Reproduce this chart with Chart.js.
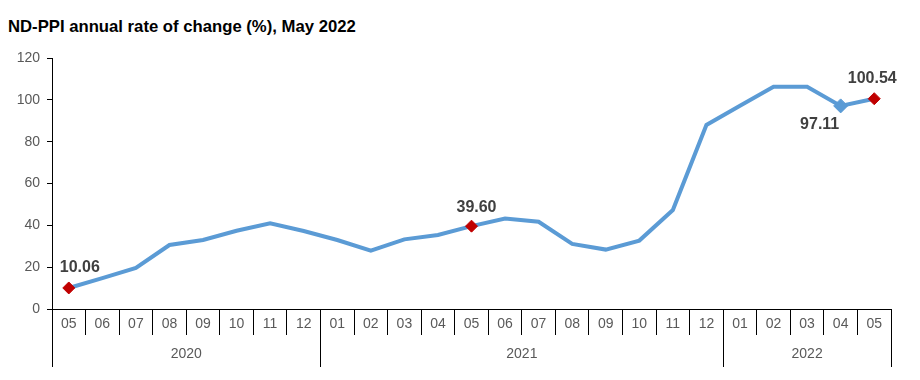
<!DOCTYPE html>
<html>
<head>
<meta charset="utf-8">
<script src="https://cdn.jsdelivr.net/npm/chart.js@4"></script>
<style>
  html, body { margin: 0; padding: 0; background: #fff; }
  .wrap { position: relative; width: 920px; height: 380px; }
  .title { position: absolute; left: 8px; top: 17px; font: bold 16.7px "Liberation Sans", Arial, sans-serif; color: #000; }
  canvas { position: absolute; left: 0; top: 0; }
</style>
</head>
<body>
<div class="wrap">
  <div class="title">ND-PPI annual rate of change (%), May 2022</div>
  <canvas id="ppiChart" width="920" height="380"></canvas>
</div>
<script>
const MONTHS = ['05','06','07','08','09','10','11','12',
                '01','02','03','04','05','06','07','08','09','10','11','12',
                '01','02','03','04','05'];
const YEARS = ['2020', '2021', '2022'];
const YEAR_MONTHS = [8, 12, 5];
const RATE = [10.06, 14.8, 19.6, 30.6, 33.0, 37.4, 41.0, 37.3,
              33.0, 27.9, 33.3, 35.4, 39.60, 43.3, 41.7, 31.1, 28.4, 32.7, 47.3, 88.0,
              97.2, 106.3, 106.3, 97.11, 100.54];
const Y_TICKS = [0, 20, 40, 60, 80, 100, 120];
// points that get a marker + value label
const MARKED = [0, 12, 23, 24];

const FONT = '"Liberation Sans", Arial, sans-serif';
const LINE_BLUE = '#5b9bd5';
const MARK_RED = '#c00000';

const markerColor = i => (i === 23 ? LINE_BLUE : MARK_RED);
const labelOffset = { 0: [11, -20], 12: [5, -19], 23: [-21, 19], 24: [-2, -20] };

/* value labels on the marked points */
const valueLabels = {
  id: 'valueLabels',
  afterDatasetsDraw(chart) {
    const { ctx } = chart;
    const meta = chart.getDatasetMeta(0);
    ctx.save();
    ctx.font = 'bold 16px ' + FONT;
    ctx.fillStyle = '#404040';
    ctx.textAlign = 'center';
    ctx.textBaseline = 'middle';
    MARKED.forEach(i => {
      const pt = meta.data[i];
      const [dx, dy] = labelOffset[i];
      ctx.fillText(RATE[i].toFixed(2), pt.x + dx, pt.y + dy);
    });
    ctx.restore();
  }
};

/* year row under the month labels */
const yearRow = {
  id: 'yearRow',
  afterDraw(chart) {
    const { ctx } = chart;
    const x = chart.scales.x;
    const step = x.width / MONTHS.length;
    const top = x.top;
    const bottom = 367;
    ctx.save();
    ctx.strokeStyle = '#000';
    ctx.lineWidth = 1;
    ctx.font = '14px ' + FONT;
    ctx.fillStyle = '#595959';
    ctx.textAlign = 'center';
    ctx.textBaseline = 'middle';
    let start = 0;
    const edges = [0];
    YEARS.forEach((yr, k) => {
      const end = start + YEAR_MONTHS[k];
      const x0 = x.left + start * step, x1 = x.left + end * step;
      ctx.fillText(yr, (x0 + x1) / 2, 354);
      edges.push(end);
      start = end;
    });
    edges.forEach(e => {
      const px = Math.round(x.left + e * step) + 0.5;
      ctx.beginPath();
      ctx.moveTo(px, top);
      ctx.lineTo(px, bottom);
      ctx.stroke();
    });
    ctx.restore();
  }
};

new Chart(document.getElementById('ppiChart'), {
  type: 'line',
  data: {
    labels: MONTHS,
    datasets: [{
      data: RATE,
      borderColor: LINE_BLUE,
      borderWidth: 4,
      tension: 0,
      pointStyle: 'rectRot',
      pointRadius: c => (MARKED.includes(c.dataIndex) ? (c.dataIndex === 23 ? 7 : 6) : 0),
      pointBackgroundColor: c => markerColor(c.dataIndex),
      pointBorderColor: c => markerColor(c.dataIndex),
      pointBorderWidth: 1,
    }],
  },
  options: {
    responsive: false,
    animation: false,
    events: [],
    layout: { padding: { top: 58, right: 29, left: 0, bottom: 0 } },
    plugins: { legend: { display: false }, tooltip: { enabled: false } },
    scales: {
      x: {
        offset: true,
        afterFit: s => { s.height = 71; },
        border: { display: true, color: '#000', width: 1 },
        grid: { offset: true, drawOnChartArea: false, tickLength: 26, color: '#000' },
        ticks: { color: '#595959', font: { family: FONT, size: 14 }, padding: -19, autoSkip: false, maxRotation: 0 },
      },
      y: {
        min: 0, max: 120,
        afterFit: s => { s.width = 52; },
        afterBuildTicks: s => { s.ticks = Y_TICKS.map(v => ({ value: v })); },
        border: { display: true, color: '#000', width: 1 },
        grid: { drawOnChartArea: false, tickLength: 5, color: '#000' },
        ticks: { color: '#595959', font: { family: FONT, size: 14 }, padding: 7 },
      },
    },
  },
  plugins: [valueLabels, yearRow],
});
</script>
</body>
</html>
